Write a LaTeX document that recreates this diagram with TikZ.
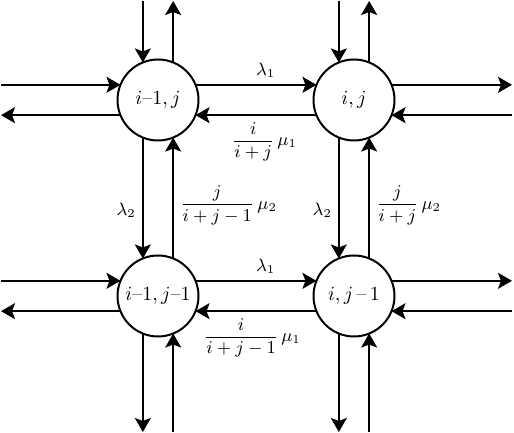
\documentclass[tikz,border=0pt]{standalone}
\usepackage{amsmath}
\usetikzlibrary{arrows.meta}

\begin{document}
\begin{tikzpicture}[x=0.5pt,y=0.5pt,line width=1pt,
    >={Stealth[length=7pt,width=8pt,inset=1.5pt]},
    stato/.style={draw,circle,minimum size=40.5pt,inner sep=0pt,outer sep=0pt},
    tasso/.style={font=\small,inner sep=3pt}]
    \useasboundingbox (0,0) rectangle (514,433);

    % Stati
    \node[stato] (A) at (158,333) {$i\text{--}1,j$};
    \node[stato] (B) at (354,333) {$i,j$};
    \node[stato] (C) at (158,137) {$i\text{--}1,j\text{--}1$};
    \node[stato] (D) at (354,137) {$i,j\,\text{--}\,1$};

    % Bordi
    \coordinate (N) at (0,432);
    \coordinate (S) at (0,1);
    \coordinate (W) at (1,0);
    \coordinate (E) at (512,0);

    % Archi orizzontali
    \draw[->] (A.22) -- (B.158) node[tasso,pos=0.58,above] {$\lambda_1$};
    \draw[->] (B.202) -- (A.-22) node[tasso,pos=0.43,below] {$\dfrac{i}{i+j}\,\mu_1$};
    \draw[->] (C.22) -- (D.158) node[tasso,pos=0.58,above] {$\lambda_1$};
    \draw[->] (D.202) -- (C.-22) node[tasso,pos=0.53,below] {$\dfrac{i}{i+j-1}\,\mu_1$};

    % Archi verticali
    \draw[->] (A.248) -- (C.112) node[tasso,pos=0.6,left] {$\lambda_2$};
    \draw[->] (C.68) -- (A.-68) node[tasso,pos=0.44,right] {$\dfrac{j}{i+j-1}\,\mu_2$};
    \draw[->] (B.248) -- (D.112) node[tasso,pos=0.6,left] {$\lambda_2$};
    \draw[->] (D.68) -- (B.-68) node[tasso,pos=0.44,right] {$\dfrac{j}{i+j}\,\mu_2$};

    % Archi verso l'esterno
    \foreach \s in {A,B} {
        \coordinate (\s-n1) at (\s.112 |- N);
        \coordinate (\s-n2) at (\s.68 |- N);
        \draw[->] (\s-n1) -- (\s.112);
        \draw[->] (\s.68) -- (\s-n2);
    }
    \foreach \s in {C,D} {
        \coordinate (\s-s1) at (\s.248 |- S);
        \coordinate (\s-s2) at (\s.292 |- S);
        \draw[->] (\s.248) -- (\s-s1);
        \draw[->] (\s-s2) -- (\s.292);
    }
    \foreach \s in {A,C} {
        \coordinate (\s-w1) at (\s.158 -| W);
        \coordinate (\s-w2) at (\s.202 -| W);
        \draw[->] (\s-w1) -- (\s.158);
        \draw[->] (\s.202) -- (\s-w2);
    }
    \foreach \s in {B,D} {
        \coordinate (\s-e1) at (\s.22 -| E);
        \coordinate (\s-e2) at (\s.-22 -| E);
        \draw[->] (\s.22) -- (\s-e1);
        \draw[->] (\s-e2) -- (\s.-22);
    }
\end{tikzpicture}
\end{document}
